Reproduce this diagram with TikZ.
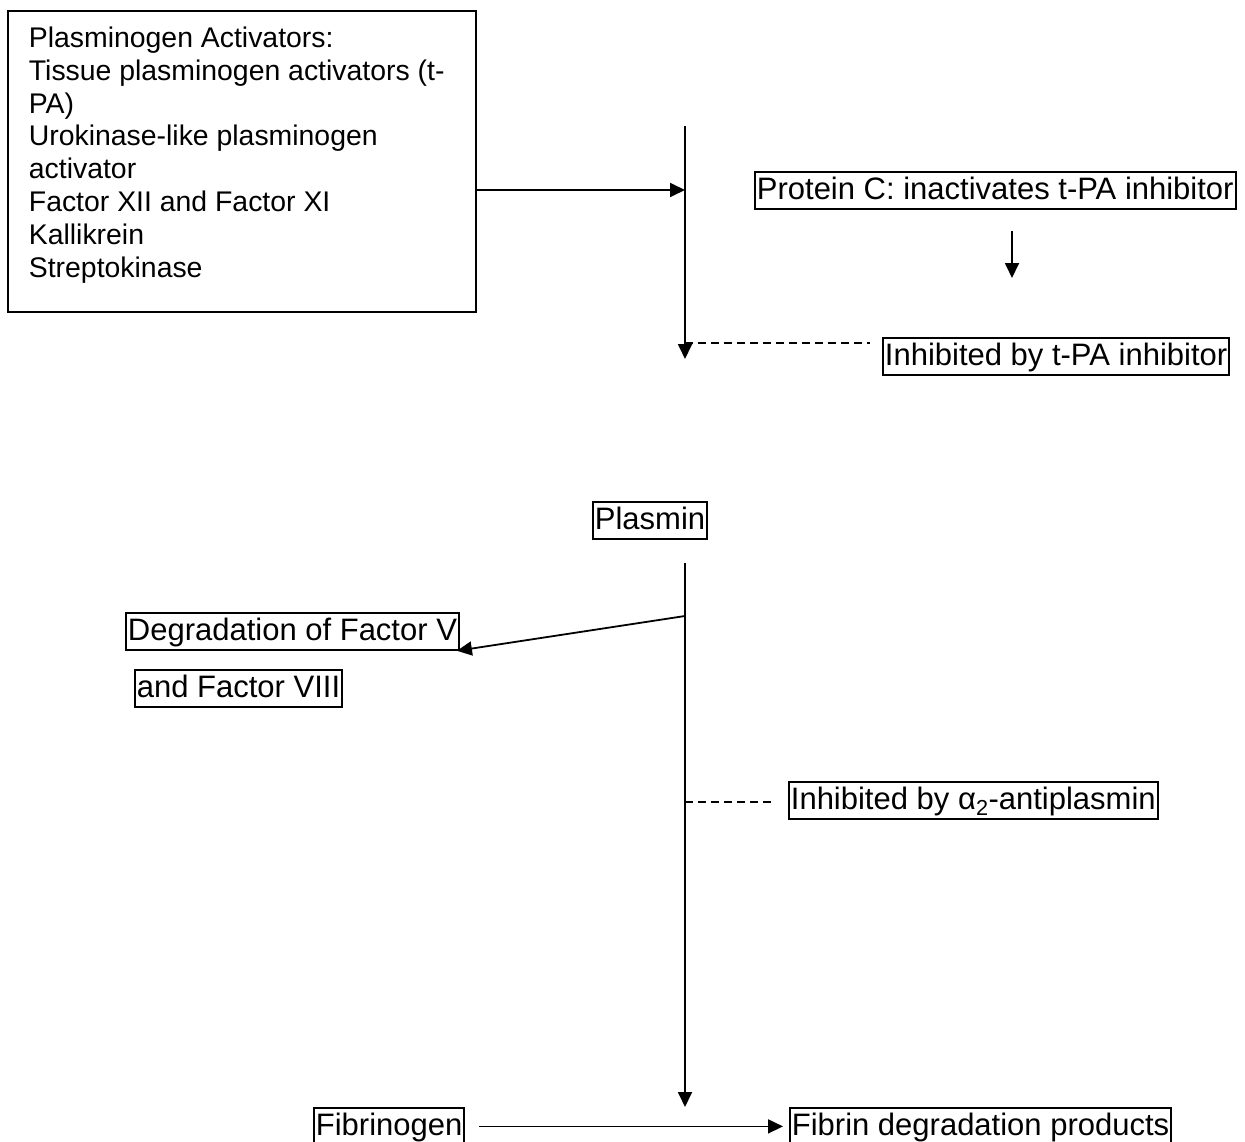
\documentclass[tikz,border=0pt]{standalone}
\usepackage{fontspec}
\setmainfont{Liberation Sans}
\usetikzlibrary{arrows.meta}
\begin{document}
\begin{tikzpicture}[x=1pt,y=-1pt,
  line width=1.8pt,
  arr/.style={-{Triangle[length=15pt,width=14pt]}},
  dsh/.style={dash pattern=on 8pt off 5pt},
  lbl/.style={draw, line width=1.8pt, font=\fontsize{31}{36}\selectfont,
    inner xsep=2pt, inner ysep=2.5pt, text height=25pt, text depth=7pt,
    anchor=north west}]
\useasboundingbox (0,0) rectangle (1245,1142);
% big box
\node[draw, minimum width=468pt, minimum height=301pt, anchor=north west, inner sep=0] (pa) at (7,10) {};
\node[anchor=north west, inner sep=0, align=left, font=\fontsize{28.4}{32.8}\selectfont] (patext) at (28,26)
 {Plasminogen Activators:\\Tissue plasminogen activators (t-\\PA)\\Urokinase-like plasminogen\\activator\\Factor XII and Factor XI\\Kallikrein\\Streptokinase};
% labels
\node[lbl] (pc) at (754,171) {Protein C: inactivates t-PA inhibitor};
\node[lbl] (tpa) at (882,337) {Inhibited by t-PA inhibitor};
\node[lbl] (pl) at (592,501) {Plasmin};
\node[lbl] (deg) at (125,612) {Degradation of Factor V};
\node[lbl] (deg2) at (134,669) {and Factor VIII};
\node[lbl] (ap) at (788,781) {Inhibited by α\textsubscript{2}-antiplasmin};
\node[lbl] (fib) at (313,1107) {Fibrinogen};
\node[lbl] (fdp) at (789,1107) {Fibrin degradation products};
% coordinates
\coordinate (v1top) at (685,126);
\coordinate (v1bot) at (685,359);
\coordinate (j1) at (685,190);
\coordinate (d1) at (685,343);
\coordinate (pcat) at (1012,231);
\coordinate (pcab) at (1012,278);
\coordinate (v2top) at (685,563);
\coordinate (v2bot) at (685,1107);
\coordinate (j2) at (685,616);
\coordinate (d2) at (685,802);
% connectors
\draw[arr] (pa.east |- j1) -- (j1);
\draw[arr] (v1top) -- (v1bot);
\draw[dsh] (d1) -- ([xshift=-12pt]tpa.west |- d1);
\draw[arr] (pcat) -- (pcab);
\draw[arr] (v2top) -- (v2bot);
\draw[arr] (j2) -- ([xshift=-3pt]deg.south east);
\draw[dsh] (d2) -- ([xshift=-16pt]ap.west |- d2);
\draw[arr] ([xshift=14pt]fib.east) -- ([xshift=-6pt]fdp.west);
\end{tikzpicture}
\end{document}
